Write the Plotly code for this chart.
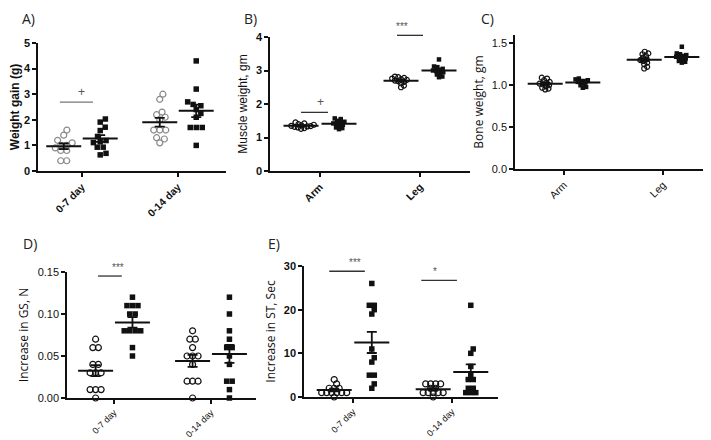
import numpy as np
import plotly.graph_objects as go

# the page puts the figure 8px down from the top of the window
OFF_X, OFF_Y = 0, 8
W, H = 711 - OFF_X, 440 - OFF_Y

days = ["0-7 day", "0-14 day"]
limbs = ["Arm", "Leg"]

# each list: [first category, second category]; open circles vs filled squares
gain_open = [[1.6, 1.4, 1.2, 1.1, 1.0, 1.0, 0.9, 0.8, 0.8, 0.4, 0.4],
             [3.0, 2.8, 2.3, 2.2, 2.1, 2.0, 1.6, 1.6, 1.6, 1.3, 1.25, 1.1]]
gain_fill = [[2.03, 1.91, 1.71, 1.58, 1.35, 1.19, 1.14, 1.11, 0.93, 0.93, 0.69, 0.63],
             [4.3, 3.2, 2.7, 2.6, 2.55, 2.4, 2.25, 2.1, 1.7, 1.7, 1.7, 1.0]]

muscle_open = [[1.45, 1.42, 1.40, 1.38, 1.36, 1.35, 1.34, 1.33, 1.32, 1.30, 1.28, 1.26],
               [2.82, 2.80, 2.78, 2.76, 2.74, 2.72, 2.70, 2.68, 2.66, 2.62, 2.55, 2.50]]
muscle_fill = [[1.57, 1.55, 1.50, 1.47, 1.45, 1.42, 1.40, 1.38, 1.35, 1.30, 1.28, 1.25],
               [3.33, 3.12, 3.10, 3.05, 3.02, 3.00, 2.98, 2.95, 2.92, 2.88, 2.82, 2.80]]

bone_open = [[1.09, 1.08, 1.06, 1.04, 1.03, 1.02, 1.01, 1.00, 0.99, 0.97, 0.96, 0.95],
             [1.40, 1.38, 1.37, 1.35, 1.33, 1.31, 1.30, 1.29, 1.27, 1.25, 1.22, 1.20]]
bone_fill = [[1.08, 1.07, 1.06, 1.05, 1.05, 1.04, 1.03, 1.03, 1.02, 1.00, 0.98, 0.97],
             [1.46, 1.38, 1.37, 1.36, 1.35, 1.34, 1.33, 1.32, 1.31, 1.29, 1.28, 1.27]]

gs_open = [[0.07, 0.06, 0.06, 0.04, 0.04, 0.03, 0.03, 0.03, 0.01, 0.01, 0.01, 0.0],
           [0.08, 0.07, 0.07, 0.06, 0.05, 0.05, 0.05, 0.04, 0.02, 0.02, 0.02, 0.0]]
gs_fill = [[0.12, 0.11, 0.11, 0.11, 0.10, 0.10, 0.08, 0.08, 0.08, 0.08, 0.06, 0.05],
           [0.12, 0.10, 0.08, 0.07, 0.06, 0.06, 0.05, 0.04, 0.02, 0.02, 0.01, 0.0]]

st_open = [[4, 3, 2, 2, 2, 1, 1, 1, 1, 1, 1, 0],
           [3, 3, 3, 3, 2, 2, 1, 1, 1, 1, 1, 0]]
st_fill = [[26, 21, 21, 20, 19, 11, 9, 8, 5, 5, 3, 2],
           [21, 11, 10, 7, 5, 4, 4, 2, 2, 1, 1, 1]]


def swarm(vals, ppu_y, gap):
    """Horizontal pixel offsets: equal values in centred rows, others beeswarm."""
    vals = np.asarray(vals, float)
    xs = np.zeros(len(vals))
    placed = []
    for v in sorted(set(vals)):
        idx = np.where(vals == v)[0]
        y = v * ppu_y
        if len(idx) > 1:
            for j, i in enumerate(idx):
                xs[i] = (j - (len(idx) - 1) / 2) * gap
                placed.append((xs[i], y))
            continue
        cands = [0.0]
        for px, py in placed:
            dy = abs(y - py)
            if dy < gap:
                dx = np.sqrt(gap ** 2 - dy ** 2)
                cands += [px + dx, px - dx]
        ok = [c for c in cands
              if all((c - px) ** 2 + (y - py) ** 2 >= gap ** 2 - 1e-6 for px, py in placed)]
        best = min(ok, key=abs)
        xs[idx[0]] = best
        placed.append((best, y))
    return xs


def px_x(v):
    return (v - OFF_X) / W


def px_y(v):
    return 1 - (v - OFF_Y) / H


panels = [
    dict(letter="A)", box=(30, 218, 171, 43), xr=[-0.458, 1.5], yr=[0, 5], dtick=1, fmt="",
         cats=days, data=(gain_open, gain_fill), title="Weight gain (g)", ybold=True, xbold=True,
         gap=6.0, open_color="#8a8a8a", msize=5.5, title_font="Liberation Sans",
         sig=[(-0.23, 0.115, 2.69, "+")], lpos=(20, 19), tstand=4),
    dict(letter="B)", box=(262, 462, 171, 37), xr=[-0.5, 1.5], yr=[0, 4], dtick=1, fmt="",
         cats=limbs, data=(muscle_open, muscle_fill), title="Muscle weight, gm", ybold=True, xbold=True,
         gap=3.4, open_color="#111111", msize=4.5, title_font="Liberation Sans",
         sig=[(-0.19, 0.08, 1.75, "+"), (0.77, 1.03, 4.05, "***")], lpos=(242, 19), tstand=6),
    dict(letter="C)", box=(507, 707, 169, 35), xr=[-0.495, 1.525], yr=[0, 1.6], dtick=0.5, fmt=".1f",
         cats=limbs, data=(bone_open, bone_fill), title="Bone weight, gm", ybold=False, xbold=False,
         gap=3.4, open_color="#111111", msize=4.5, title_font="Open Sans",
         sig=[], lpos=(479, 19), tstand=6),
    dict(letter="D)", box=(59, 248, 398, 272), xr=[-0.485, 1.464], yr=[0, 0.15], dtick=0.05, fmt=".2f",
         cats=days, data=(gs_open, gs_fill), title="Increase in GS, N", ybold=False, xbold=False,
         gap=5.5, open_color="#111111", msize=5.5, title_font="Open Sans",
         sig=[(-0.165, 0.08, 0.1452, "***")], lpos=(22, 243), tstand=6),
    dict(letter="E)", box=(296, 490, 397, 266), xr=[-0.495, 1.465], yr=[0, 30], dtick=10, fmt="",
         cats=days, data=(st_open, st_fill), title="Increase in ST, Sec", ybold=True, xbold=False,
         gap=5.0, open_color="#111111", msize=5.5, title_font="Open Sans",
         sig=[(-0.24, 0.12, 28.8, "***"), (0.69, 1.05, 26.7, "*")], lpos=(266, 243), tstand=6),
]

fig = go.Figure()
shapes, annotations = [], []
offset = 0.19

for k, p in enumerate(panels, start=1):
    ax = "" if k == 1 else str(k)
    l, r, b, t = p["box"]
    ppu_x = (r - l) / (p["xr"][1] - p["xr"][0])
    ppu_y = (b - t) / (p["yr"][1] - p["yr"][0])

    for g, (series, side) in enumerate(zip(p["data"], (-1, 1))):
        for c, vals in enumerate(series):
            center = c + side * offset
            xs = center + swarm(vals, ppu_y, p["gap"]) / ppu_x
            if g == 0:
                marker = dict(symbol="circle-open", size=p["msize"] + 0.5, color=p["open_color"],
                              line=dict(width=1.2, color=p["open_color"]))
            else:
                marker = dict(symbol="square", size=p["msize"], color="#111111")
            fig.add_trace(go.Scatter(x=xs, y=vals, mode="markers", marker=marker,
                                     xaxis="x" + ax, yaxis="y" + ax, showlegend=False,
                                     cliponaxis=False))
            arr = np.asarray(vals, float)
            mean = arr.mean()
            sem = arr.std(ddof=1) / np.sqrt(len(arr))
            fig.add_trace(go.Scatter(
                x=[center], y=[mean], mode="markers",
                marker=dict(symbol="line-ew", size=25, color="#111111",
                            line=dict(width=2, color="#111111")),
                error_y=dict(type="data", array=[sem], width=5, thickness=1.8, color="#111111"),
                xaxis="x" + ax, yaxis="y" + ax, showlegend=False, cliponaxis=False))

    # significance bars, placed in domain units so they can sit above the axis range
    for x0, x1, yv, txt in p["sig"]:
        fx = lambda v: (v - p["xr"][0]) / (p["xr"][1] - p["xr"][0])
        fy = (yv - p["yr"][0]) / (p["yr"][1] - p["yr"][0])
        shapes.append(dict(type="line", xref="x" + ax + " domain", yref="y" + ax + " domain",
                           x0=fx(x0), x1=fx(x1), y0=fy, y1=fy,
                           line=dict(color="#777777" if k == 1 else "#333333", width=1.3)))
        annotations.append(dict(text=txt, xref="x" + ax + " domain", yref="y" + ax + " domain",
                                x=fx((x0 + x1) / 2), y=fy, yanchor="bottom", yshift=1,
                                showarrow=False,
                                font=dict(size=12 if txt == "+" else 10, color="#555555",
                                          family="Liberation Sans")))

    annotations.append(dict(text=p["letter"], xref="paper", yref="paper",
                            x=px_x(p["lpos"][0]), y=px_y(p["lpos"][1]),
                            xanchor="center", yanchor="middle",
                            showarrow=False, font=dict(size=14, color="#222222", family="Open Sans")))

    fig.update_layout(**{
        "xaxis" + ax: dict(
            domain=[px_x(l), px_x(r)], range=p["xr"], anchor="y" + ax, automargin=False,
            tickvals=[0, 1], ticktext=p["cats"], tickangle=-45,
            showgrid=False, zeroline=False, showline=True, linecolor="#111111", linewidth=1.5,
            ticks="outside", ticklen=4, tickwidth=1.5, tickcolor="#111111",
            tickfont=dict(size=9 if k > 3 else 10.5, color="#111111", family="Liberation Sans",
                          weight="bold" if p["xbold"] else "normal"),
        ),
        "yaxis" + ax: dict(
            domain=[px_y(b), px_y(t)], range=p["yr"], anchor="x" + ax, automargin=False,
            dtick=p["dtick"], tick0=0, tickformat=p["fmt"],
            showgrid=False, zeroline=False, showline=True, linecolor="#111111", linewidth=1.5,
            ticks="outside", ticklen=4, tickwidth=1.5, tickcolor="#111111",
            tickfont=dict(size=11, color="#111111", family="Liberation Sans",
                          weight="bold" if p["ybold"] else "normal"),
            title=dict(text=p["title"], standoff=p["tstand"],
                       font=dict(size=12, color="#111111", family=p["title_font"],
                                 weight="bold" if k == 1 else "normal")),
        ),
    })

fig.update_layout(
    width=W, height=H,
    margin=dict(l=0, r=0, t=0, b=0),
    paper_bgcolor="white", plot_bgcolor="white",
    shapes=shapes, annotations=annotations,
)

fig.write_html("out.html")
